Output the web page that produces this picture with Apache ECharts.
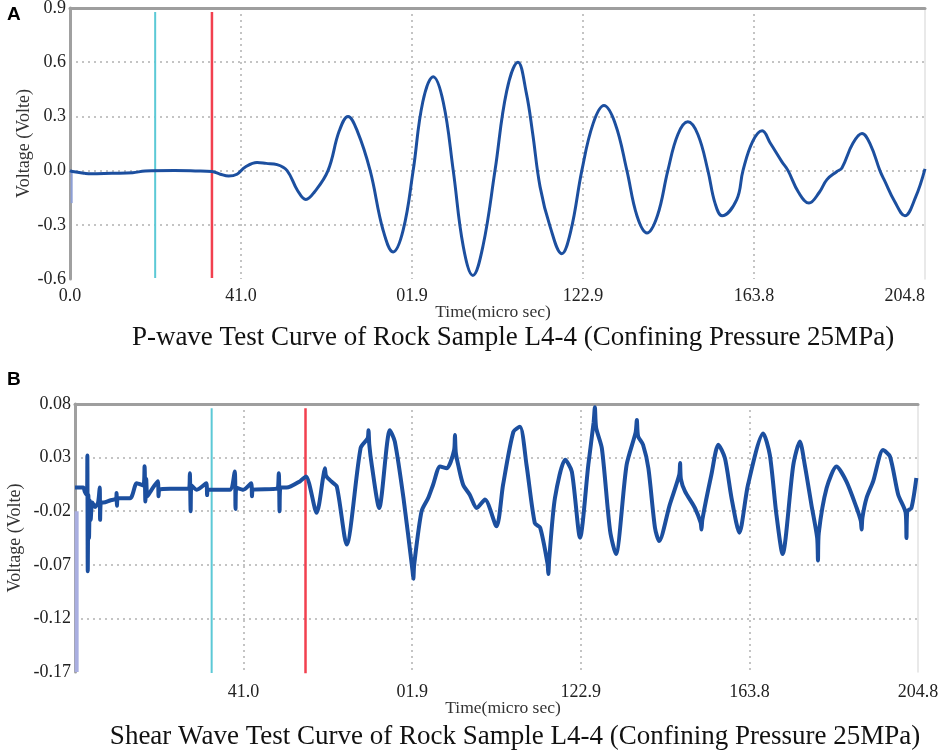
<!DOCTYPE html>
<html>
<head>
<meta charset="utf-8">
<title>Rock Sample L4-4 wave curves</title>
<style>
  html, body { margin: 0; padding: 0; background: #fff; overflow: hidden; }
  #main { width: 941px; height: 751px; }
</style>
</head>
<body>
<script src="https://cdn.jsdelivr.net/npm/echarts@6.0.0/dist/echarts.min.js" type="text/javascript" charset="utf-8"></script>
<div id="main"></div>
<script type="text/javascript">
    // tick labels along the time axis (the "01.9" is how the original figure prints 81.9)
    var timeLabels = ['0.0', '41.0', '01.9', '122.9', '163.8', '204.8'];
    var timeStep = 40.96;

    // P-wave trace (A)
    var pTime = [0, 0.6, 3.5, 5, 10, 15, 18, 25, 30, 34, 36, 38, 40, 42, 44.8, 47, 49.6,
        52, 54.5, 56.5, 58.5, 61.8, 64.5, 66.6, 68.8, 71.9, 75, 77.4, 79.8, 82.2,
        84.5, 87.0, 89.4, 91.8, 94.2, 96.5, 98.9, 101.8, 104.6, 107.3, 109.3, 110.8,
        112.6, 115, 117.8, 120.0, 122.6, 125.3, 127.9, 130.6, 133.4, 135.8, 138.2,
        140.7, 143.2, 145.6, 148.0, 150.4, 152.8, 154.5, 156.2, 159.7, 161.2, 163.5,
        165.8, 167.8, 170.5, 172.0, 174.5, 177.0, 179.5, 181.3, 183.7, 184.9, 187.5,
        189.7, 191.8, 194.0, 195.2, 197.5, 200.0, 202.5, 204.8];
    var pVolt = [0.0, -0.005, -0.015, -0.018, -0.015, -0.012, -0.002, 0.0, -0.002, -0.005, -0.02, -0.03, -0.02, 0.02, 0.045, 0.04, 0.033,
        0.0, -0.11, -0.16, -0.12, 0.0, 0.22, 0.30, 0.22, 0.0, -0.33, -0.45, -0.33, 0.0,
        0.38, 0.52, 0.38, 0.0, -0.42, -0.58, -0.42, 0.0, 0.44, 0.60, 0.43, 0.21,
        -0.09, -0.31, -0.46, -0.33, 0.0, 0.26, 0.36, 0.26, 0.0, -0.25, -0.345,
        -0.25, 0.0, 0.2, 0.27, 0.2, 0.0, -0.18, -0.25, -0.16, 0.0, 0.16,
        0.22, 0.15, 0.05, 0.0, -0.12, -0.18, -0.12, -0.05, -0.005, 0.015, 0.15,
        0.205, 0.14, 0.0, -0.06, -0.17, -0.25, -0.15, 0.01];
    // faint first-sample dip of the P-wave trace
    var pDipTime = [0.4, 0.4];
    var pDipVolt = [0.0, -0.18];

    // shear-wave trace (B); short triples are the noise bursts
    var sTime = [0.0, 2.0, 2.4, 2.9, 3.0, 3.1, 3.25, 3.4, 3.6, 3.8, 4.2, 4.9, 5.6, 6.0, 6.1, 6.3, 6.9,
        8.5, 10.0, 10.1, 10.2, 10.4, 13.4, 15.0, 16.6, 16.9, 17.1, 17.3, 17.6, 18.6,
        20.1, 20.3, 20.5, 23.1, 27.7, 27.9, 28.1, 28.3, 29.6, 31.9, 32.1, 32.3, 37.6,
        38.8, 39.0, 39.2, 40.9, 42.8, 43.0, 43.2, 49.0, 49.5, 49.7, 49.9, 51.4, 54.7,
        56.1, 58.7, 60.3, 60.7, 61.0, 62.2, 63.6, 66.0, 69.4, 71.1, 71.3, 71.5, 72.1,
        73.9, 76.5, 77.7, 79.8, 82.0, 82.2, 82.4, 84.2, 85.8, 87.0, 88.7, 90.3, 92.1,
        92.3, 92.5, 93.1, 94.3, 95.9, 97.6, 99.6, 102.4, 104.0, 106.5, 108.1, 109.7,
        111.7, 113.0, 114.8, 115.0, 115.2, 116.6, 119.1, 120.7, 122.7, 124.7, 126.0,
        126.3, 126.6, 128.0, 130.0, 131.4, 134.0, 136.2, 136.5, 136.8, 138.0, 139.3,
        140.9, 141.9, 144.5, 146.8, 147.0, 147.2, 148.2, 150.6, 152.0, 152.2, 152.4,
        154.6, 156.3, 157.9, 159.5, 161.4, 163.5, 167.2, 168.8, 170.4, 171.9, 174.5,
        176.1, 177.3, 178.9, 180.3, 180.5, 180.7, 182.6, 185.0, 187.4, 189.9, 190.9,
        191.1, 191.3, 192.3, 193.9, 196.3, 198.0, 200.0, 201.8, 202.0, 202.2, 203.2, 204.4];
    var sVolt = [0.002, 0.002, -0.002, -0.005, 0.032, -0.076, -0.005, -0.045, -0.01, -0.028, -0.012, -0.016, -0.012, 0.002, -0.028, -0.012, -0.012,
        -0.01, -0.008, -0.003, -0.015, -0.008, -0.008, 0.006, 0.004, 0.022, -0.011, 0.01, -0.006, 0.0,
        0.008, -0.006, 0.0, 0.001, 0.001, 0.0155, -0.02, 0.004, 0.0, 0.006, -0.005, 0.0, 0.0,
        0.017, -0.018, 0.002, 0.0, 0.006, -0.006, 0.0, 0.001, 0.0155, -0.02, 0.002, 0.002, 0.008,
        0.0124, -0.0215, 0.012, 0.020, 0.013, 0.008, 0.003, -0.051, 0.039, 0.048, 0.0556, 0.042, 0.023,
        -0.017, 0.0556, 0.045, -0.0077, -0.0756, -0.083, -0.07, -0.02, -0.0077, 0.0047, 0.0217, 0.020, 0.037,
        0.051, 0.035, 0.023, 0.0047, -0.0046, -0.017, -0.0092, -0.034, 0.0047, 0.054, 0.0587, 0.023,
        -0.031, -0.0354, -0.069, -0.0786, -0.065, -0.0077, 0.028, 0.017, -0.0447, 0.023, 0.063,
        0.077, 0.058, 0.0386, -0.0385, -0.06, 0.023, 0.0535, 0.065, 0.05, 0.042, 0.020,
        -0.0354, -0.0478, -0.0138, 0.014, 0.025, 0.01, -0.0015, -0.017, -0.0308, -0.037, -0.028,
        0.014, 0.042, 0.0294, -0.0077, -0.040, 0.0047, 0.0525, 0.0325, -0.023, -0.060, 0.023,
        0.045, 0.023, -0.0138, -0.0447, -0.066, -0.04, 0.0016, 0.0217, 0.0078, -0.017, -0.029,
        -0.037, -0.026, -0.0077, 0.0078, 0.037, 0.031, -0.0046, -0.0215, -0.045, -0.02, -0.017, 0.011];
    // pale bar of the first samples of the shear trace
    var sDipTime = [0.4, 0.4];
    var sDipVolt = [-0.02, -0.17];

    // picked arrival markers (cyan, red)
    var pMarks = [20.4, 34.0];
    var pMarkSpan = [-0.594, 0.878];
    var sMarks = [33.2, 56.0];
    var sMarkSpan = [-0.172, 0.076];

    function pairs(xs, ys) {
        return xs.map(function (x, i) { return [x, ys[i]]; });
    }

    var serif = '"Liberation Serif", "DejaVu Serif", serif';
    var dotStyle = { color: '#c4c4c4', width: 2, type: [2, 4] };

    function timeAxis(grid, showMin, alignMax, margin) {
        return {
            type: 'value', gridIndex: grid, min: 0, max: 204.8, interval: timeStep,
            axisLine: { show: false, onZero: false }, axisTick: { show: false },
            axisLabel: {
                showMinLabel: showMin, alignMaxLabel: alignMax,
                fontFamily: serif, fontSize: 18, color: '#222', margin: margin,
                formatter: function (v) { return timeLabels[Math.round(v / timeStep)]; }
            },
            splitLine: { show: true, showMinLine: false, showMaxLine: false, lineStyle: dotStyle }
        };
    }
    function frameX(grid) {
        return {
            type: 'value', gridIndex: grid, position: 'top', min: 0, max: 204.8,
            axisLine: { show: true, onZero: false, lineStyle: { color: '#9e9e9e', width: 3 } },
            axisTick: { show: false }, axisLabel: { show: false }, splitLine: { show: false }
        };
    }
    function frameY(grid) {
        return {
            type: 'value', gridIndex: grid, position: 'right', min: 0, max: 1,
            axisLine: { show: true, onZero: false, lineStyle: { color: '#e2e2e2', width: 1.5 } },
            axisTick: { show: false }, axisLabel: { show: false }, splitLine: { show: false }
        };
    }
    function voltAxis(grid, min, max, step, digits, gap) {
        return {
            type: 'value', gridIndex: grid, min: min, max: max, interval: step,
            name: 'Voltage (Volte)', nameLocation: 'middle', nameGap: gap, nameMoveOverlap: false,
            nameTextStyle: { fontFamily: serif, fontSize: 18, color: '#333' },
            axisLine: { show: true, onZero: false, lineStyle: { color: '#a0a0a0', width: 3 } },
            axisTick: { show: false },
            axisLabel: {
                fontFamily: serif, fontSize: 18, color: '#222', margin: 4,
                formatter: function (v) { return v.toFixed(digits); }
            },
            splitLine: { show: true, showMinLine: false, showMaxLine: false, lineStyle: dotStyle }
        };
    }
    function markSeries(xIdx, yIdx, t, span, color, width) {
        return {
            type: 'line', xAxisIndex: xIdx, yAxisIndex: yIdx, data: [[t, span[0]], [t, span[1]]],
            showSymbol: false, silent: true, lineStyle: { color: color, width: width }, z: 3
        };
    }

    var myChart = echarts.init(document.getElementById('main'));

    var option = {
        animation: false,
        grid: [
            { left: 70, top: 8, width: 855, height: 271, containLabel: false, outerBoundsMode: 'none' },
            { left: 75, top: 404, width: 843, height: 268, containLabel: false, outerBoundsMode: 'none' }
        ],
        xAxis: [
            timeAxis(0, true, 'right', 8), frameX(0),
            timeAxis(1, false, null, 11), frameX(1)
        ],
        yAxis: [
            voltAxis(0, -0.6, 0.9, 0.3, 1, 37), frameY(0),
            voltAxis(1, -0.17, 0.08, 0.05, 2, 51), frameY(1)
        ],
        graphic: [
            { type: 'text', left: 7, top: 5, style: { text: 'A', font: 'bold 19px "Liberation Sans", Arial, sans-serif', fill: '#000' } },
            { type: 'text', left: 7, top: 370, style: { text: 'B', font: 'bold 19px "Liberation Sans", Arial, sans-serif', fill: '#000' } },
            { type: 'text', x: 493, y: 312, style: { text: 'Time(micro sec)', font: '17.5px ' + serif, fill: '#333', align: 'center', verticalAlign: 'middle' } },
            { type: 'text', x: 503, y: 708, style: { text: 'Time(micro sec)', font: '17.5px ' + serif, fill: '#333', align: 'center', verticalAlign: 'middle' } },
            { type: 'text', x: 513, y: 338, style: { text: 'P-wave Test Curve of Rock Sample L4-4 (Confining Pressure 25MPa)', font: '27px ' + serif, fill: '#111', align: 'center', verticalAlign: 'middle' } },
            { type: 'text', x: 515, y: 737, style: { text: 'Shear Wave Test Curve of Rock Sample L4-4 (Confining Pressure 25MPa)', font: '27px ' + serif, fill: '#111', align: 'center', verticalAlign: 'middle' } }
        ],
        series: [
            {
                name: 'P-wave', type: 'line', xAxisIndex: 0, yAxisIndex: 0,
                data: pairs(pTime, pVolt), smooth: 0.4, showSymbol: false,
                lineStyle: { color: '#1c4f9f', width: 3 }, z: 4
            },
            {
                type: 'line', xAxisIndex: 0, yAxisIndex: 0, data: pairs(pDipTime, pDipVolt),
                showSymbol: false, lineStyle: { color: '#8d9fd6', width: 2 }, z: 2
            },
            markSeries(0, 0, pMarks[0], pMarkSpan, '#5cc9d6', 2),
            markSeries(0, 0, pMarks[1], pMarkSpan, '#f2404f', 2.5),
            {
                name: 'Shear wave', type: 'line', xAxisIndex: 2, yAxisIndex: 2,
                data: pairs(sTime, sVolt), smooth: 0.25, showSymbol: false,
                lineStyle: { color: '#1c4f9f', width: 4 }, z: 4
            },
            {
                type: 'line', xAxisIndex: 2, yAxisIndex: 2, data: pairs(sDipTime, sDipVolt),
                showSymbol: false, lineStyle: { color: '#a9aee0', width: 4 }, z: 2
            },
            markSeries(2, 2, sMarks[0], sMarkSpan, '#5cc9d6', 2),
            markSeries(2, 2, sMarks[1], sMarkSpan, '#f2404f', 2.5)
        ]
    };

    myChart.setOption(option);
</script>
</body>
</html>
